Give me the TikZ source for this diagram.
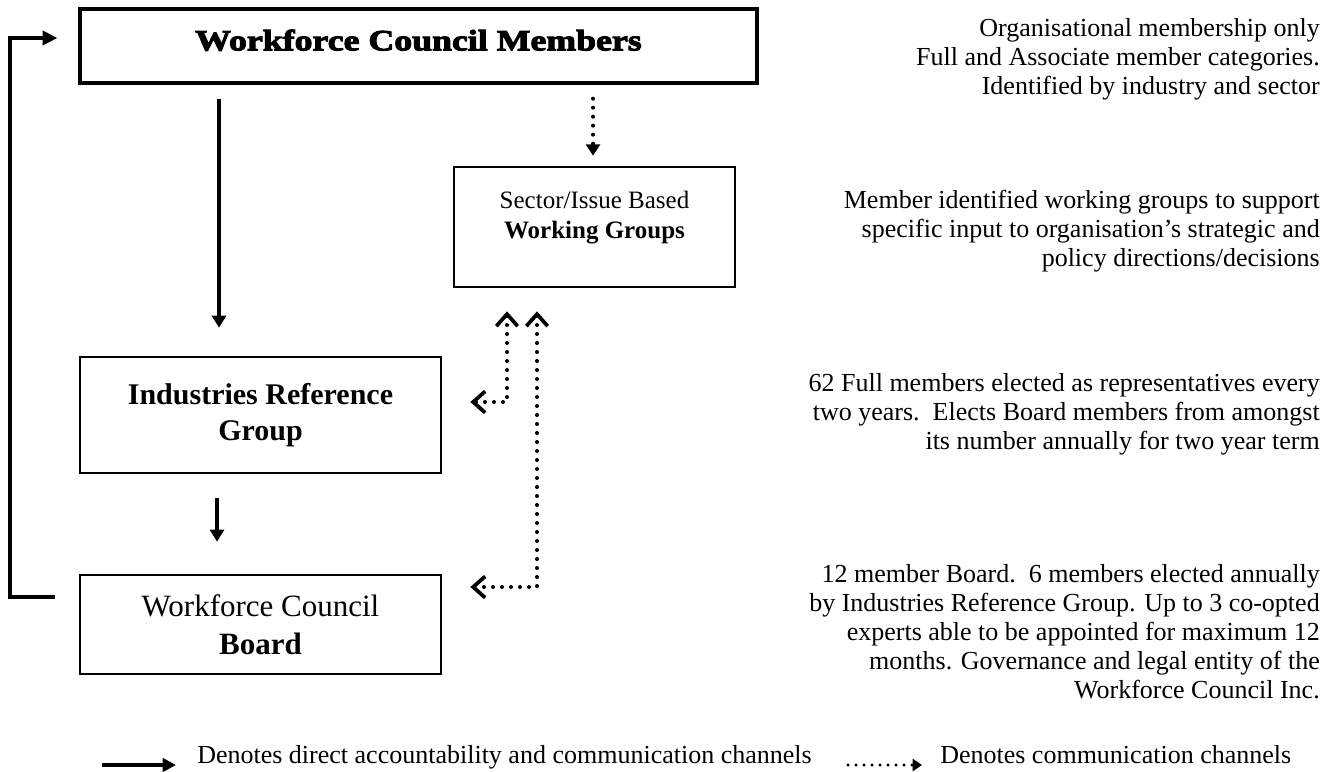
\documentclass[tikz,border=0pt]{standalone}
\usepackage{fontspec}
\setmainfont{Liberation Serif}
\newfontfamily\titlefont{Liberation Serif}[UprightFont=* Bold, FakeStretch=1.22, FakeBold=3.5]
\usetikzlibrary{arrows.meta}
\newdimen\pxu \pxu=0.75pt
\tikzset{
  box/.style={draw, line width=2pt, inner sep=0pt, align=center},
  rtext/.style={anchor=base east, inner sep=0pt, font=\fontsize{19.5pt}{21.75pt}\selectfont},
  ltext/.style={anchor=base west, inner sep=0pt, font=\fontsize{19.5pt}{21.75pt}\selectfont},
  solidarrow/.style={line width=2.3pt, -{Triangle[width=10.5pt,length=9pt]}},
  dotline/.style={line width=3pt, line cap=round, dash pattern=on 0pt off 6.75pt},
  dotarrow/.style={dotline, -{Triangle[width=10.5pt,length=8.5pt]}},
  dotboth/.style={dotline, {Straight Barb[length=9pt,width=16pt,line width=2.8pt]}-{Straight Barb[length=9pt,width=16pt,line width=2.8pt]}},
  feedback/.style={line width=2.7pt, -{Triangle[width=10.5pt,length=11pt]}}
}
\begin{document}
\begin{tikzpicture}[x=0.75pt,y=-0.75pt]
\useasboundingbox (0,0) rectangle (1333,771);

% boxes
\node[box, line width=2.5pt, minimum width={677*\pxu}, minimum height={74*\pxu},
      font={\titlefont\fontsize{22pt}{24pt}\selectfont}, text depth=9pt]
      (wcm) at (418.5,46) {Workforce Council Members};
\node[box, minimum width={281*\pxu}, minimum height={120*\pxu}] (wg) at (594.5,227) {};
\node[align=center, inner sep=0pt, font=\fontsize{18.75pt}{22.5pt}\selectfont]
      (wgt) at (594.5,218) {Sector/Issue Based\\\textbf{Working Groups}};
\node[box, minimum width={361*\pxu}, minimum height={116*\pxu},
      font=\bfseries\fontsize{22.5pt}{27pt}\selectfont]
      (irg) at (260.5,415) {Industries Reference\\Group};
\node[box, minimum width={361*\pxu}, minimum height={99*\pxu},
      font=\fontsize{23.25pt}{28.5pt}\selectfont]
      (board) at (260.5,624.5) {Workforce Council\\\textbf{Board}};

% guide coordinates
\coordinate (cA) at (219,0);
\coordinate (cB) at (217,0);
\coordinate (cC) at (593,0);
\coordinate (cD) at (507,402);
\coordinate (cE) at (537,587);
\coordinate (fA) at (10,597);
\coordinate (fB) at (10,38);

% connectors
\draw[solidarrow, shorten <=10.5pt, shorten >=21pt] (wcm.south -| cA) -- (irg.north -| cA);
\draw[solidarrow, shorten <=18pt, shorten >=24pt] (irg.south -| cB) -- (board.north -| cB);
\draw[dotarrow, shorten <=10.5pt, shorten >=7.5pt] (wcm.south -| cC) -- (wg.north -| cC);
\draw[dotboth, shorten <=17.25pt, shorten >=21pt] (wg.south -| cD) -- (cD) -- (irg.east |- cD);
\draw[dotboth, shorten <=17.25pt, shorten >=21pt] (wg.south -| cE) -- (cE) -- (board.east |- cE);
\draw[feedback, shorten <=18pt, shorten >=15.75pt] (board.west |- fA) -- (fA) -- (fB) -- (wcm.west |- fB);

% right-hand descriptions
\node[rtext] (r1a) at (1320,36) {Organisational membership only};
\node[rtext] (r1b) at (1320,65) {Full and Associate member categories.};
\node[rtext] (r1c) at (1320,94) {Identified by industry and sector};

\node[rtext] (r2a) at (1320,208) {Member identified working groups to support};
\node[rtext] (r2b) at (1320,237) {specific input to organisation’s strategic and};
\node[rtext] (r2c) at (1320,266) {policy directions/decisions};

\node[rtext] (r3a) at (1320,391) {62 Full members elected as representatives every};
\node[rtext] (r3b) at (1320,420) {two years.\ \ Elects Board members from amongst};
\node[rtext] (r3c) at (1320,449) {its number annually for two year term};

\node[rtext] (r4a) at (1320,582) {12 member Board.\ \ 6 members elected annually};
\node[rtext] (r4b) at (1320,611) {by Industries Reference Group. Up to 3 co-opted};
\node[rtext] (r4c) at (1320,640) {experts able to be appointed for maximum 12};
\node[rtext] (r4d) at (1320,669) {months. Governance and legal entity of the};
\node[rtext] (r4e) at (1320,698) {Workforce Council Inc.};

% legend
\coordinate (lgA) at (102,765);
\coordinate (lgB) at (176,765);
\coordinate (lgC) at (848,765);
\coordinate (lgD) at (922,765);
\draw[line width=3pt, -{Triangle[width=10pt,length=10pt]}] (lgA) -- (lgB);
\node[ltext] (lgT1) at (197,763) {Denotes direct accountability and communication channels};
\draw[line width=2.6pt, line cap=round, dash pattern=on 0pt off 6pt, -{Triangle[width=9pt,length=7pt]}] (lgC) -- (lgD);
\node[ltext] (lgT2) at (940,763) {Denotes communication channels};
\end{tikzpicture}
\end{document}
